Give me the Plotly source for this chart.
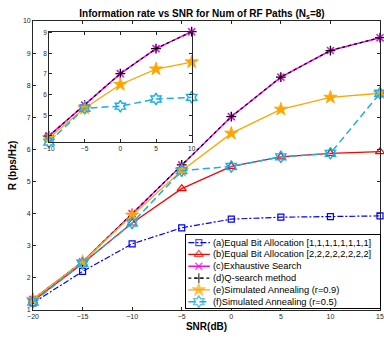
import plotly.graph_objects as go

# ---------------- data ----------------
snr = [-20, -15, -10, -5, 0, 5, 10, 15]
rate_a = [1.22, 2.20, 3.06, 3.56, 3.83, 3.89, 3.91, 3.93]
rate_b = [1.28, 2.45, 3.71, 4.78, 5.47, 5.77, 5.88, 5.93]
rate_c = [1.33, 2.50, 4.00, 5.52, 7.02, 8.25, 9.08, 9.48]
rate_d = [1.33, 2.50, 4.00, 5.52, 7.02, 8.25, 9.08, 9.48]
rate_e = [1.33, 2.50, 3.95, 5.34, 6.50, 7.25, 7.62, 7.75]
rate_f = [1.25, 2.45, 3.71, 5.34, 5.47, 5.77, 5.88, 7.75]

snr_zoom = [-10, -5, 0, 5, 10]
zoom_c = [4.00, 5.49, 7.02, 8.23, 9.05]
zoom_d = [4.00, 5.49, 7.02, 8.23, 9.05]
zoom_e = [3.90, 5.34, 6.49, 7.24, 7.58]
zoom_f = [3.70, 5.34, 5.44, 5.79, 5.87]

labels = [
    "(a)Equal Bit Allocation [1,1,1,1,1,1,1,1]",
    "(b)Equal Bit Allocation [2,2,2,2,2,2,2,2]",
    "(c)Exhaustive Search",
    "(d)Q-search method",
    "(e)Simulated Annealing (r=0.9)",
    "(f)Simulated Annealing (r=0.5)",
]
x_ticks = [-20, -15, -10, -5, 0, 5, 10, 15]
y_ticks = [1, 2, 3, 4, 5, 6, 7, 8, 9, 10]
zoom_x_ticks = [-10, -5, 0, 5, 10]
zoom_y_ticks = [4, 5, 6, 7, 8, 9]

# ---------------- styles ----------------
styles = [
    dict(color="#0000ff", dash="6px,2px,2px,2px", width=1.2, symbol="square-open", size=6, mlw=1.2),
    dict(color="#ff0000", dash="solid", width=1.3, symbol="triangle-up-open", size=8, mlw=1.2),
    dict(color="#ff00ff", dash="solid", width=1.5, symbol="x-thin-open", size=7, mlw=1.6),
    dict(color="#000000", dash="dot", width=1.2, symbol="cross-thin-open", size=7, mlw=1.3),
    dict(color="#ffa500", dash="solid", width=1.3, symbol="star", size=10, mlw=0.8),
    dict(color="#1aaeea", dash="7px,4px", width=1.5, symbol="hexagram-open", size=9, mlw=1.4),
]

main_series = [rate_a, rate_b, rate_c, rate_d, rate_e, rate_f]
zoom_series = [(2, zoom_c), (3, zoom_d), (4, zoom_e), (5, zoom_f)]

fig = go.Figure()

def add_series(x, y, st, xa, ya):
    fig.add_trace(go.Scatter(
        x=x, y=y, mode="lines+markers", xaxis=xa, yaxis=ya, showlegend=False,
        line=dict(color=st["color"], dash=st["dash"], width=st["width"]),
        marker=dict(symbol=st["symbol"], size=st["size"], color=st["color"],
                    line=dict(color=st["color"], width=st["mlw"])),
        cliponaxis=False,
    ))

for ser, st in zip(main_series, styles):
    add_series(snr, ser, st, "x", "y")

for idx, ser in zoom_series:
    add_series(snr_zoom, ser, styles[idx], "x2", "y2")

# ---------------- custom compact legend (own axes) ----------------
line_x0, mark_x, line_x1, text_x = 0.012, 0.066, 0.123, 0.128
for i, (st, lab) in enumerate(zip(styles, labels)):
    fig.add_trace(go.Scatter(
        x=[line_x0, mark_x, line_x1], y=[i, i, i], mode="lines+markers",
        xaxis="x3", yaxis="y3", showlegend=False, hoverinfo="skip",
        line=dict(color=st["color"], dash=st["dash"], width=st["width"]),
        marker=dict(symbol=st["symbol"], size=[0, st["size"], 0], color=st["color"],
                    line=dict(color=st["color"], width=st["mlw"])),
        cliponaxis=False,
    ))
    fig.add_annotation(x=text_x, y=i, xref="x3", yref="y3", text=lab, showarrow=False,
                       xanchor="left", yanchor="middle",
                       font=dict(family="Liberation Sans, Arial", size=9.3, color="#000000"))

axcol = "#262626"
tickfont = dict(family="Liberation Sans, Arial", size=7, color=axcol)
common = dict(showline=True, linecolor=axcol, linewidth=0.8, mirror="ticks", ticks="inside",
              ticklen=3, tickcolor=axcol, tickwidth=0.8, showgrid=False, zeroline=False,
              tickfont=tickfont, automargin=False, ticklabeloverflow="allow")
small = dict(family="Liberation Sans, Arial", size=6.5, color=axcol)

fig.update_layout(
    width=384, height=338,
    margin=dict(l=33, r=4, t=21, b=28),
    paper_bgcolor="white", plot_bgcolor="white",
    font=dict(family="Liberation Sans, Arial", color="#000000"),
    title=dict(text="<b>Information rate vs SNR for Num of RF Paths (N<sub>s</sub>=8)</b>",
               x=0.526, xanchor="center", y=1 - 13 / 338, yanchor="middle",
               font=dict(size=10, color="#000000")),
    xaxis=dict(domain=[0, 1], range=[-20, 15], tickvals=x_ticks, anchor="y",
               title=dict(text="<b>SNR(dB)</b>", font=dict(size=10, color="#000000"), standoff=3),
               **common),
    yaxis=dict(domain=[0, 1], range=[1, 10], tickvals=y_ticks, anchor="x",
               title=dict(text="<b>R (bps/Hz)</b>", font=dict(size=10, color="#000000"), standoff=4),
               **common),
    xaxis2=dict(domain=[0.0461, 0.4573], range=[-10, 10], tickvals=zoom_x_ticks, anchor="y2",
                **{**common, "tickfont": small}),
    yaxis2=dict(domain=[0.581, 0.963], range=[3.70, 9.05], tickvals=zoom_y_ticks, anchor="x2",
                **{**common, "tickfont": small}),
    xaxis3=dict(domain=[0.441, 1.0], range=[0, 1], anchor="y3", showline=True, mirror=True,
                linecolor="#000000", linewidth=0.8, showticklabels=False, ticks="",
                showgrid=False, zeroline=False, fixedrange=True),
    yaxis3=dict(domain=[0.0052, 0.2595], range=[5.58, -0.65], anchor="x3", showline=True, mirror=True,
                linecolor="#000000", linewidth=0.8, showticklabels=False, ticks="",
                showgrid=False, zeroline=False, fixedrange=True),
)

fig.write_html("out.html")
